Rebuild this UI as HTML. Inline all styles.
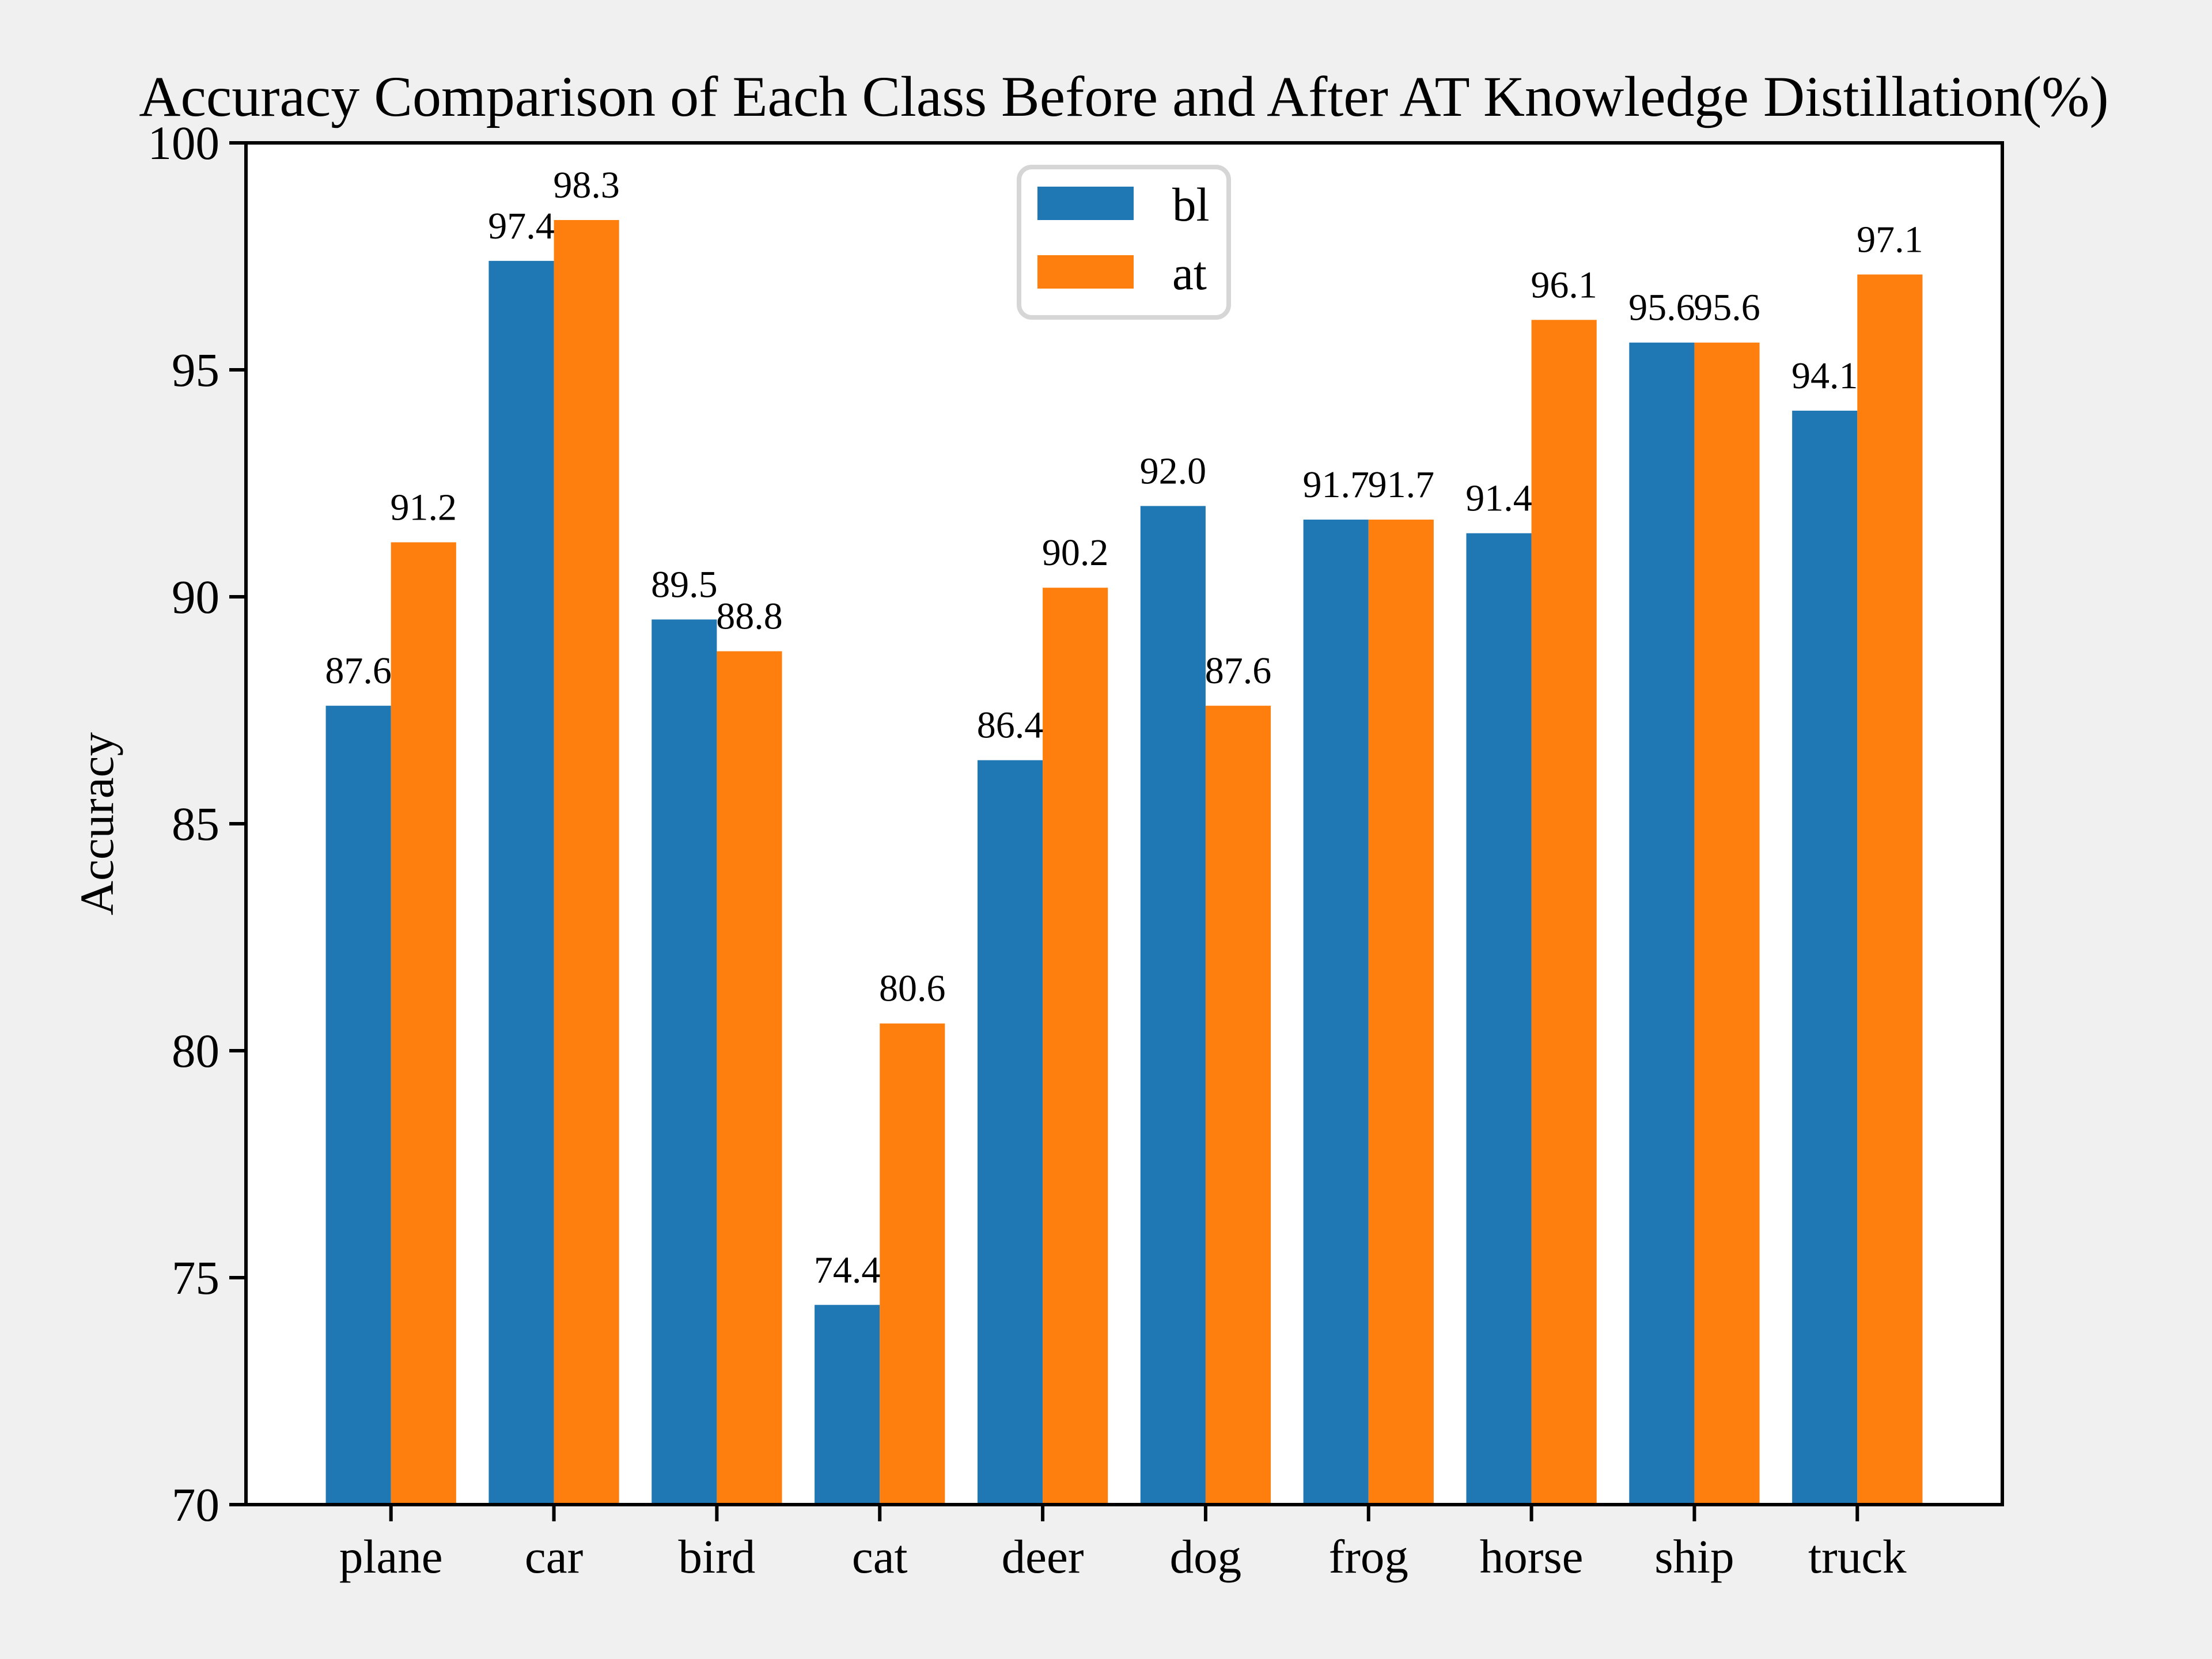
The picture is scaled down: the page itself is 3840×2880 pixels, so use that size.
<!DOCTYPE html>
<html><head><meta charset="utf-8"><style>
html,body{margin:0;padding:0;background:#f0f0f0;}
svg{display:block;font-family:"Liberation Serif","DejaVu Serif",serif;}
</style></head><body>
<svg id="chart" width="3840" height="2880" viewBox="0 0 3840 2880" xmlns="http://www.w3.org/2000/svg">
<rect x="0" y="0" width="3840" height="2880" fill="#f0f0f0"/>
<rect x="427" y="248" width="3049" height="2364" fill="#ffffff"/>
<g id="bars"></g>
<g id="labels"></g>
<g id="axes"></g>
<text x="1951" y="201" font-size="100" text-anchor="middle">Accuracy Comparison of Each Class Before and After AT Knowledge Distillation(%)</text>
<text x="0" y="0" font-size="83" text-anchor="middle" transform="translate(196,1430) rotate(-90)">Accuracy</text>
<g>
<rect x="1769" y="290" width="364" height="261" rx="22" fill="#ffffff" stroke="#d6d6d6" stroke-width="8"/>
<rect x="1801" y="324" width="167" height="58" fill="#1f77b4"/>
<text x="2035" y="383" font-size="83">bl</text>
<rect x="1801" y="443" width="167" height="58" fill="#ff7f0e"/>
<text x="2035" y="502" font-size="83">at</text>
</g>
</svg>
<script>
const categories = ["plane","car","bird","cat","deer","dog","frog","horse","ship","truck"];
const blValues = [87.6,97.4,89.5,74.4,86.4,92.0,91.7,91.4,95.6,94.1];
const atValues = [91.2,98.3,88.8,80.6,90.2,87.6,91.7,96.1,95.6,97.1];
const yTicks = [70,75,80,85,90,95,100];

const NS="http://www.w3.org/2000/svg";
const L=427,R=3476,T=248,B=2612;
const xMin=-0.89,xMax=9.89,yMin=70,yMax=100;
function xs(v){return L+(v-xMin)/(xMax-xMin)*(R-L);}
function ys(v){return B-(v-yMin)/(yMax-yMin)*(B-T);}
function mk(tag,attrs,parent){const e=document.createElementNS(NS,tag);for(const k in attrs)e.setAttribute(k,attrs[k]);parent.appendChild(e);return e;}
const bars=document.getElementById('bars'),labels=document.getElementById('labels'),axes=document.getElementById('axes');
const w=0.4;
const series=[{vals:blValues,off:-0.2,color:"#1f77b4",name:"bl"},{vals:atValues,off:0.2,color:"#ff7f0e",name:"at"}];
series.forEach(s=>{
  s.vals.forEach((v,i)=>{
    const x0=xs(i+s.off-w/2),x1=xs(i+s.off+w/2);
    const r=mk('rect',{x:x0,y:ys(v),width:x1-x0,height:ys(yMin)-ys(v),fill:s.color},bars);
    
    
    const t=mk('text',{x:(x0+x1)/2,y:ys(v)-39,'font-size':66,'text-anchor':'middle'},labels);
    t.textContent=v.toFixed(1);
    
    
  });
});
const sp=mk('rect',{x:L,y:T,width:R-L,height:B-T,fill:'none',stroke:'#000','stroke-width':6},axes);


yTicks.forEach(v=>{
  const y=ys(v);
  const tk=mk('line',{x1:L-29,x2:L,y1:y,y2:y,stroke:'#000','stroke-width':6},axes);
  
  
  const t=mk('text',{x:L-46,y:y+28,'font-size':83,'text-anchor':'end'},axes);
  t.textContent=v;
  
  
});
categories.forEach((c,i)=>{
  const x=xs(i);
  const tk=mk('line',{x1:x,x2:x,y1:B,y2:B+29,stroke:'#000','stroke-width':6},axes);
  
  
  const t=mk('text',{x:x,y:2730,'font-size':83,'text-anchor':'middle'},axes);
  t.textContent=c;
  
  
});
</script>
</body></html>
